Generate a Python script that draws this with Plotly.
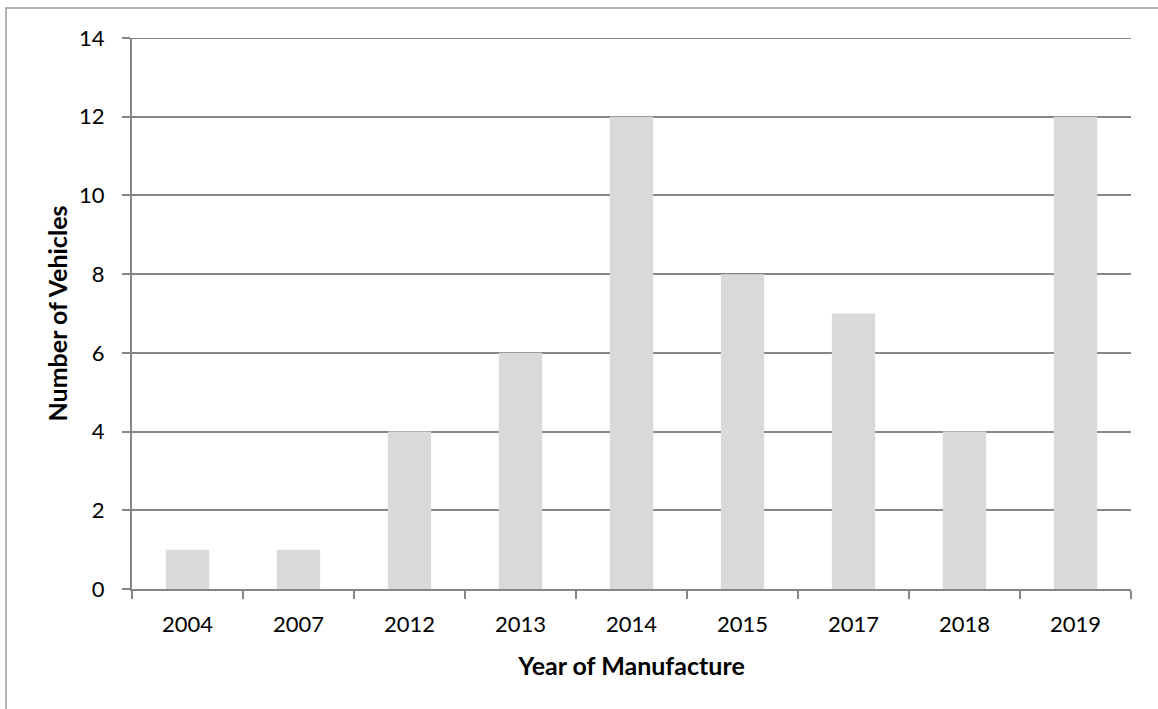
import plotly.graph_objects as go

years = ["2004", "2007", "2012", "2013", "2014", "2015", "2017", "2018", "2019"]
vehicles = [1, 1, 4, 6, 12, 8, 7, 4, 12]
y_ticks = [0, 2, 4, 6, 8, 10, 12, 14]

W, H = 1158, 709
L, R, T, B = 132, 27, 38, 120
pw, ph = W - L - R, H - T - B

fig = go.Figure(go.Bar(x=years, y=vehicles, marker=dict(color="#d9d9d9", line=dict(width=0))))

font = "Lato, Open Sans, sans-serif"
fig.update_layout(
    width=W, height=H,
    margin=dict(l=L, r=R, t=T, b=B),
    paper_bgcolor="white", plot_bgcolor="white",
    bargap=0.61,
    showlegend=False,
    font=dict(family=font, size=22, color="black"),
    xaxis=dict(
        type="category",
        showline=True, linecolor="#868686", linewidth=2,
        ticks="outside", tickson="boundaries", ticklen=8, tickcolor="#868686", tickwidth=2,
        showgrid=False,
        ticklabelstandoff=15,
        title=dict(text="<b>Year of Manufacture</b>", font=dict(size=25), standoff=21),
        tickfont=dict(size=22),
    ),
    yaxis=dict(
        range=[0, 14], tickvals=y_ticks,
        showline=True, linecolor="#868686", linewidth=2,
        ticks="outside", ticklen=8, tickcolor="#868686", tickwidth=2,
        showgrid=True, gridcolor="#868686", gridwidth=2,
        zeroline=False,
        ticklabelstandoff=13,
        title=dict(text="<b>Number of Vehicles</b>", font=dict(size=25), standoff=4),
        tickfont=dict(size=22),
    ),
)

# top gridline (plotly drops gridlines on the range edge)
fig.add_shape(type="line", xref="paper", yref="y", x0=0, x1=1,
              y0=y_ticks[-1], y1=y_ticks[-1], line=dict(color="#868686", width=2))

# chart outer border (only top/left visible in the frame)
x0 = (6 - L) / pw
y1 = (H - B - 8) / ph
fig.add_shape(type="rect", xref="paper", yref="paper",
              x0=x0, x1=(W + 20 - L) / pw, y0=-(B + 20) / ph, y1=y1,
              line=dict(color="#9a9a9a", width=1.5), fillcolor="rgba(0,0,0,0)", layer="below")

fig.write_html("out.html")
